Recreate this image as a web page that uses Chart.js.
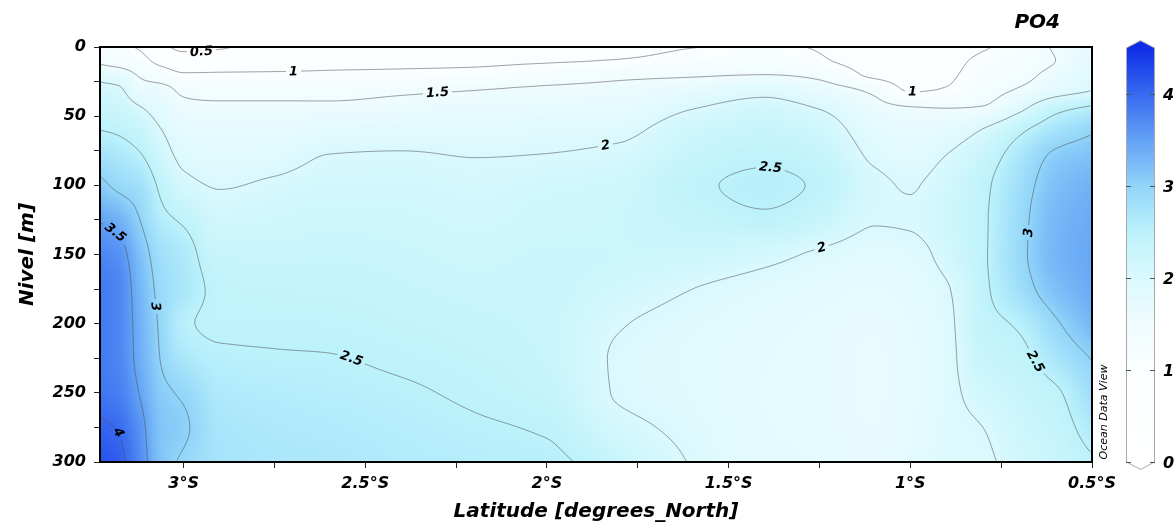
<!DOCTYPE html>
<html><head><meta charset="utf-8"><title>PO4</title>
<script src="https://cdn.jsdelivr.net/npm/chart.js@4.4.1/dist/chart.umd.min.js"></script>
<style>html,body{margin:0;padding:0;background:#fff;}canvas{display:block;}</style>
</head><body>
<canvas id="chart" width="1176" height="527" style="width:1176px;height:527px"></canvas>
<script>
// ---------------- DATA ----------------
const latitudes = [-3.23,-3.18,-3.12,-3.06,-3.0,-2.9,-2.75,-2.6,-2.4,-2.2,-2.0,-1.8,-1.6,-1.4,-1.25,-1.1,-1.0,-0.9,-0.8,-0.7,-0.6,-0.5];
const depths = [0,10,20,30,45,60,80,100,125,150,175,200,225,250,275,300];

// PO4 profiles (one per latitude, values at the depths above)
const st_m323 = [1.2,1.4,1.85,2.1,2.3,2.5,2.8,3.1,3.48,3.75,3.85,3.85,3.85,3.9,4.05,4.2];
const st_m318 = [1.1,1.3,1.75,2.05,2.25,2.45,2.7,2.92,3.35,3.65,3.75,3.75,3.75,3.82,3.98,4.1];
const st_m312 = [0.95,1.15,1.45,1.65,2.05,2.3,2.55,2.8,3.0,3.2,3.3,3.35,3.38,3.48,3.62,3.7];
const st_m306 = [0.6,0.85,1.25,1.6,1.8,2.0,2.2,2.4,2.6,2.8,2.88,2.92,2.97,3.08,3.15,3.15];
const st_m300 = [0.4,0.7,1.05,1.4,1.6,1.75,1.92,2.1,2.45,2.65,2.7,2.55,2.7,2.95,3.05,2.95];
const st_m290 = [0.45,0.75,1.05,1.3,1.6,1.72,1.85,1.98,2.15,2.3,2.42,2.45,2.55,2.65,2.72,2.75];
const st_m275 = [0.75,0.85,1.05,1.3,1.6,1.72,1.88,2.05,2.18,2.28,2.38,2.45,2.52,2.6,2.66,2.7];
const st_m260 = [0.85,0.92,1.05,1.32,1.6,1.8,2.02,2.12,2.22,2.3,2.37,2.44,2.51,2.57,2.63,2.68];
const st_m240 = [0.85,0.93,1.07,1.4,1.65,1.82,2.04,2.12,2.2,2.27,2.33,2.39,2.46,2.53,2.58,2.62];
const st_m220 = [0.85,0.94,1.1,1.47,1.7,1.82,2.0,2.08,2.15,2.22,2.28,2.34,2.4,2.46,2.53,2.58];
const st_m200 = [0.88,0.97,1.25,1.55,1.72,1.88,2.02,2.15,2.22,2.26,2.28,2.28,2.3,2.36,2.47,2.56];
const st_m180 = [0.9,1.02,1.4,1.6,1.75,1.92,2.08,2.2,2.25,2.25,2.15,2.02,1.96,1.97,2.1,2.3];
const st_m160 = [0.99,1.12,1.45,1.7,2.0,2.2,2.33,2.44,2.35,2.22,2.0,1.9,1.86,1.87,1.92,1.98];
const st_m140 = [1.05,1.2,1.5,1.85,2.15,2.3,2.45,2.56,2.45,2.1,1.88,1.8,1.76,1.75,1.76,1.78];
const st_m125 = [0.97,1.05,1.4,1.65,2.0,2.2,2.35,2.46,2.3,1.95,1.8,1.74,1.72,1.72,1.73,1.75];
const st_m110 = [0.75,0.8,0.9,1.38,1.65,1.8,1.95,2.07,2.02,1.85,1.75,1.7,1.68,1.68,1.69,1.7];
const st_m100 = [0.7,0.72,0.8,0.93,1.55,1.72,1.85,1.98,2.03,1.88,1.8,1.76,1.74,1.74,1.75,1.78];
const st_m090 = [0.8,0.85,0.92,1.02,1.52,1.78,2.02,2.15,2.2,2.12,1.97,1.92,1.9,1.9,1.92,1.95];
const st_m080 = [0.95,1.1,1.2,1.3,1.55,2.02,2.3,2.42,2.45,2.45,2.42,2.38,2.3,2.15,2.0,1.95];
const st_m070 = [1.2,1.25,1.35,1.52,1.92,2.42,2.7,2.82,2.88,2.9,2.82,2.55,2.4,2.3,2.22,2.15];
const st_m060 = [1.55,1.5,1.65,1.78,2.4,2.75,3.08,3.2,3.28,3.3,3.2,2.95,2.72,2.45,2.35,2.28];
const st_m050 = [1.75,1.8,1.88,1.97,2.6,2.95,3.2,3.35,3.42,3.45,3.42,3.3,3.02,2.85,2.65,2.45];

const profiles = [st_m323,st_m318,st_m312,st_m306,st_m300,st_m290,st_m275,st_m260,st_m240,st_m220,st_m200,
                  st_m180,st_m160,st_m140,st_m125,st_m110,st_m100,st_m090,st_m080,st_m070,st_m060,st_m050];

const contourLevels = [0.5,1,1.5,2,2.5,3,3.5,4];

// contour labels: approximate position (lat, depth) and level
const labelLat   = [-2.953,-2.698,-2.302,-1.841,-1.387,-0.995,-1.245,-3.19,-3.08,-2.538,-3.18,-0.668,-0.637];
const labelDepth = [5,18,33,71,89,33,145,134,188,225,278,134,225];
const labelLevel = [0.5,1,1.5,2,2.5,1,2,3.5,3,2.5,4,3,2.5];

const xMajorTicks = [-3,-2.5,-2,-1.5,-1,-0.5];
const xTickLabels = ['3°S','2.5°S','2°S','1.5°S','1°S','0.5°S'];
const xMinorTicks = [-2.75,-2.25,-1.75,-1.25,-0.75];
const yMajorTicks = [0,50,100,150,200,250,300];
const yMinorTicks = [25,75,125,175,225,275];

const cbTicks = [0,1,2,3,4];
const cbMin = 0, cbMax = 4.5;

// ---------------- STYLE ----------------
const colorStops = [[0,[255,255,255]],[1,[251,254,255]],[1.5,[240,252,254]],[2,[218,249,253]],[2.5,[188,242,251]],
                    [3,[145,212,249]],[3.5,[98,162,245]],[4,[55,105,240]],[4.5,[15,45,232]]];
const FONT = '"DejaVu Sans", "Liberation Sans", sans-serif';

function colorRGB(v){
  if (v <= colorStops[0][0]) return colorStops[0][1];
  for (let k=0;k<colorStops.length-1;k++){
    const [v0,c0]=colorStops[k],[v1,c1]=colorStops[k+1];
    if (v<=v1){ const t=(v-v0)/(v1-v0); return [0,1,2].map(q=>Math.round(c0[q]+(c1[q]-c0[q])*t)); }
  }
  return colorStops[colorStops.length-1][1];
}
function colorCss(v){ const c=colorRGB(v); return `rgb(${c[0]},${c[1]},${c[2]})`; }

// monotone cubic Hermite
function slopes(xs, ys){
  const n=xs.length, d=[], m=new Array(n);
  for (let k=0;k<n-1;k++) d.push((ys[k+1]-ys[k])/(xs[k+1]-xs[k]));
  m[0]=d[0]; m[n-1]=d[n-2];
  for (let k=1;k<n-1;k++){
    if (d[k-1]*d[k]<=0) m[k]=0;
    else { const h0=xs[k]-xs[k-1], h1=xs[k+1]-xs[k]; const w1=2*h1+h0, w2=h1+2*h0; m[k]=(w1+w2)/(w1/d[k-1]+w2/d[k]); }
  }
  return m;
}
function locate(xs, x){
  const n=xs.length;
  if (x<=xs[0]) return [0,0];
  if (x>=xs[n-1]) return [n-2,1];
  let k=0; while (xs[k+1]<x) k++;
  return [k,(x-xs[k])/(xs[k+1]-xs[k])];
}
function herm(xs, ys, ms, k, t){
  const h=xs[k+1]-xs[k], t2=t*t, t3=t2*t;
  return (2*t3-3*t2+1)*ys[k]+(t3-2*t2+t)*h*ms[k]+(-2*t3+3*t2)*ys[k+1]+(t3-t2)*h*ms[k+1];
}

let cache = null;
function buildField(chart){
  const a=chart.chartArea, xs=chart.scales.x, ys=chart.scales.y;
  const W=Math.round(a.right-a.left), H=Math.round(a.bottom-a.top);
  const key=W+'x'+H+'@'+a.left+','+a.top;
  if (cache && cache.key===key) return cache;
  const depthSlopes = profiles.map(p=>slopes(depths,p));
  const latLoc = [];
  for (let i=0;i<W;i++) latLoc.push(locate(latitudes, xs.getValueForPixel(a.left+i+0.5)));
  const F = new Float32Array(W*H);
  for (let j=0;j<H;j++){
    const [kd,td] = locate(depths, ys.getValueForPixel(a.top+j+0.5));
    const row = profiles.map((p,c)=>herm(depths,p,depthSlopes[c],kd,td));
    const ms = slopes(latitudes,row);
    for (let i=0;i<W;i++){ const [k,t]=latLoc[i]; F[j*W+i]=herm(latitudes,row,ms,k,t); }
  }
  const cv=document.createElement('canvas'); cv.width=W; cv.height=H;
  const cx=cv.getContext('2d'); const img=cx.createImageData(W,H);
  const lut=[]; for (let q=0;q<=900;q++) lut.push(colorRGB(q*cbMax/900));
  for (let p=0;p<W*H;p++){
    const q=Math.max(0,Math.min(900,Math.round(F[p]/cbMax*900))); const c=lut[q];
    img.data[p*4]=c[0]; img.data[p*4+1]=c[1]; img.data[p*4+2]=c[2]; img.data[p*4+3]=255;
  }
  cx.putImageData(img,0,0);
  const s=2; const segsByLevel = contourLevels.map(level=>{
    const segs=[]; const v=(i,j)=>F[j*W+i];
    for (let j=0;j+s<H;j+=s) for (let i=0;i+s<W;i+=s){
      const A=v(i,j),B=v(i+s,j),C=v(i+s,j+s),D=v(i,j+s);
      const idx=(A>level?8:0)|(B>level?4:0)|(C>level?2:0)|(D>level?1:0);
      if (idx===0||idx===15) continue;
      const T=()=>[i+s*(level-A)/(B-A), j], R=()=>[i+s, j+s*(level-B)/(C-B)],
            Bo=()=>[i+s*(level-D)/(C-D), j+s], L=()=>[i, j+s*(level-A)/(D-A)];
      switch(idx){
        case 1: case 14: segs.push(L(),Bo()); break;
        case 2: case 13: segs.push(Bo(),R()); break;
        case 3: case 12: segs.push(L(),R()); break;
        case 4: case 11: segs.push(T(),R()); break;
        case 6: case 9: segs.push(T(),Bo()); break;
        case 7: case 8: segs.push(L(),T()); break;
        case 5: { const m=(A+B+C+D)/4; if (m>level){ segs.push(L(),T(),Bo(),R()); } else { segs.push(T(),R(),L(),Bo()); } break; }
        case 10: { const m=(A+B+C+D)/4; if (m>level){ segs.push(T(),R(),L(),Bo()); } else { segs.push(L(),T(),Bo(),R()); } break; }
      }
    }
    return segs;
  });
  const labels=[];
  const ctx=chart.ctx; ctx.save(); ctx.font='italic bold 13px '+FONT;
  for (let n=0;n<labelLevel.length;n++){
    const level=labelLevel[n];
    const pi=Math.round(xs.getPixelForValue(labelLat[n])-a.left), pj=Math.round(ys.getPixelForValue(labelDepth[n])-a.top);
    let best=null, bestD=1e9; const Rr=14;
    for (let j=Math.max(1,pj-Rr);j<=Math.min(H-2,pj+Rr);j++) for (let i=Math.max(1,pi-Rr);i<=Math.min(W-2,pi+Rr);i++){
      const gx=(F[j*W+i+1]-F[j*W+i-1])/2, gy=(F[(j+1)*W+i]-F[(j-1)*W+i])/2;
      const g=Math.hypot(gx,gy)||1e-9; const dist=Math.abs(F[j*W+i]-level)/g;
      if (dist<0.6){ const dd=Math.hypot(i-pi,j-pj); if (dd<bestD){bestD=dd;best=[i,j,gx,gy];} }
    }
    if (!best){ const i=Math.min(W-2,Math.max(1,pi)), j=Math.min(H-2,Math.max(1,pj)); best=[i,j,(F[j*W+i+1]-F[j*W+i-1])/2,(F[(j+1)*W+i]-F[(j-1)*W+i])/2]; }
    let ang=Math.atan2(best[2],-best[3]);
    if (ang>Math.PI/2) ang-=Math.PI; if (ang<=-Math.PI/2) ang+=Math.PI;
    const text=String(level);
    labels.push({x:a.left+best[0]+0.5,y:a.top+best[1]+0.5,ang,text,w:ctx.measureText(text).width});
  }
  ctx.restore();
  cache={key,W,H,F,canvas:cv,segsByLevel,labels};
  return cache;
}

const odvPlugin = {
  id:'odv',
  beforeDatasetsDraw(chart){
    const {ctx, chartArea:a} = chart;
    const fd = buildField(chart);
    ctx.drawImage(fd.canvas, a.left, a.top);
    ctx.save();
    ctx.beginPath(); ctx.rect(a.left,a.top,a.right-a.left,a.bottom-a.top);
    for (const L of fd.labels){
      const hw=L.w/2+3, hh=7, c=Math.cos(L.ang), s=Math.sin(L.ang);
      const pts=[[-hw,-hh],[hw,-hh],[hw,hh],[-hw,hh]].map(([u,v])=>[L.x+u*c-v*s, L.y+u*s+v*c]);
      ctx.moveTo(pts[0][0],pts[0][1]); for (let k=1;k<4;k++) ctx.lineTo(pts[k][0],pts[k][1]); ctx.closePath();
    }
    ctx.clip('evenodd');
    ctx.strokeStyle='rgba(80,80,80,0.8)'; ctx.lineWidth=0.7;
    for (const segs of fd.segsByLevel){
      ctx.beginPath();
      for (let k=0;k<segs.length;k+=2){
        ctx.moveTo(a.left+segs[k][0]+0.5, a.top+segs[k][1]+0.5);
        ctx.lineTo(a.left+segs[k+1][0]+0.5, a.top+segs[k+1][1]+0.5);
      }
      ctx.stroke();
    }
    ctx.restore();
    ctx.save(); ctx.fillStyle='#000'; ctx.font='italic bold 13px '+FONT; ctx.textAlign='center'; ctx.textBaseline='middle';
    for (const L of fd.labels){ ctx.save(); ctx.translate(L.x,L.y); ctx.rotate(L.ang); ctx.fillText(L.text,0,0.5); ctx.restore(); }
    ctx.restore();
    ctx.save(); ctx.strokeStyle='#000'; ctx.lineWidth=2; ctx.strokeRect(a.left,a.top,a.right-a.left,a.bottom-a.top); ctx.restore();
  },
  afterDraw(chart){
    const {ctx, chartArea:a} = chart;
    const cbL=a.right+34, cbW=29, cbT=a.top+1, cbB=a.bottom;
    const py=v=>cbB-(v-cbMin)/(cbMax-cbMin)*(cbB-cbT);
    ctx.save();
    for (let y=cbT;y<cbB;y++){ ctx.fillStyle=colorCss(cbMin+(cbB-y-0.5)/(cbB-cbT)*(cbMax-cbMin)); ctx.fillRect(cbL,y,cbW,1); }
    ctx.fillStyle=colorCss(cbMax);
    ctx.beginPath(); ctx.moveTo(cbL,cbT); ctx.lineTo(cbL+cbW/2,cbT-7); ctx.lineTo(cbL+cbW,cbT); ctx.closePath(); ctx.fill();
    ctx.strokeStyle='#a8a8a8'; ctx.lineWidth=1;
    ctx.beginPath(); ctx.moveTo(cbL+0.5,cbT); ctx.lineTo(cbL+cbW/2,cbT-7.5); ctx.lineTo(cbL+cbW-0.5,cbT);
    ctx.lineTo(cbL+cbW-0.5,cbB); ctx.lineTo(cbL+cbW/2,cbB+7.5); ctx.lineTo(cbL+0.5,cbB); ctx.closePath(); ctx.stroke();
    ctx.strokeStyle='#555'; ctx.fillStyle='#000'; ctx.font='italic bold 16px '+FONT; ctx.textAlign='left'; ctx.textBaseline='middle';
    for (const v of cbTicks){
      const y=Math.round(py(v))+0.5;
      ctx.beginPath(); ctx.moveTo(cbL,y); ctx.lineTo(cbL+5,y); ctx.moveTo(cbL+cbW-5,y); ctx.lineTo(cbL+cbW,y); ctx.stroke();
      ctx.fillText(String(v), cbL+cbW+8, y+1);
    }
    ctx.font='italic bold 20px '+FONT; ctx.textAlign='right'; ctx.textBaseline='alphabetic';
    ctx.fillText('PO4', a.right-32, 28);
    ctx.font='italic 11px '+FONT; ctx.textAlign='center'; ctx.textBaseline='middle';
    ctx.translate(a.right+12, a.bottom-50); ctx.rotate(-Math.PI/2); ctx.fillText('Ocean Data View',0,0);
    ctx.restore();
  }
};

const tickFont = {family: FONT, size: 16, weight: 'bold', style: 'italic'};
const titleFont = {family: FONT, size: 20, weight: 'bold', style: 'italic'};

new Chart(document.getElementById('chart'), {
  type: 'scatter',
  data: { datasets: [{ data: [], pointRadius: 0 }] },
  plugins: [odvPlugin],
  options: {
    responsive: false, animation: false, events: [],
    layout: { padding: { left: 0, right: 84, top: 47, bottom: 0 } },
    plugins: { legend: { display: false }, tooltip: { enabled: false } },
    scales: {
      x: {
        type: 'linear', min: latitudes[0], max: latitudes[latitudes.length-1],
        afterBuildTicks: s => { s.ticks = [...xMajorTicks, ...xMinorTicks].sort((p,q)=>p-q).map(v=>({value:v})); },
        afterFit: s => { s.height = 65; },
        ticks: { autoSkip: false, maxRotation: 0, padding: 6, color: '#000', font: tickFont,
                 callback: v => { const k = xMajorTicks.findIndex(t=>Math.abs(t-v)<1e-6); return k>=0 ? xTickLabels[k] : ''; } },
        grid: { drawOnChartArea: false, drawTicks: true, tickLength: 6, color: '#222' },
        border: { display: false },
        title: { display: true, text: 'Latitude [degrees_North]', color: '#000', font: titleFont, padding: { top: 0, bottom: 3 } }
      },
      y: {
        type: 'linear', reverse: true, min: 0, max: 300,
        afterBuildTicks: s => { s.ticks = [...yMajorTicks, ...yMinorTicks].sort((p,q)=>p-q).map(v=>({value:v})); },
        afterFit: s => { s.width = 100; },
        ticks: { autoSkip: false, padding: 8, color: '#000', font: tickFont,
                 callback: v => yMajorTicks.includes(v) ? String(v) : '' },
        grid: { drawOnChartArea: false, drawTicks: true, tickLength: 6, color: '#222' },
        border: { display: false },
        title: { display: true, text: 'Nivel [m]', color: '#000', font: titleFont, padding: { top: 16, bottom: 0 } }
      }
    }
  }
});
</script>
</body></html>
